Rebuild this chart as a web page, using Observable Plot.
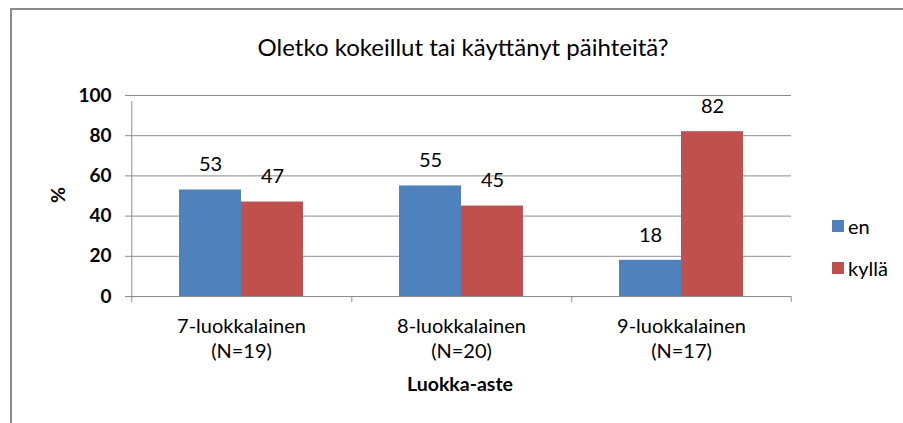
<!DOCTYPE html>
<html><head><meta charset="utf-8">
<script src="https://cdn.jsdelivr.net/npm/d3@7"></script>
<script src="https://cdn.jsdelivr.net/npm/@observablehq/plot@0.6"></script>
<style>
body{margin:0;background:#fff}
#wrap{position:relative;width:903px;height:423px;overflow:hidden;font-family:Lato,"Open Sans",sans-serif;color:#000;background:#fff}
#border{position:absolute;left:10px;top:8px;width:900px;height:420px;border-left:2px solid #8a8a8a;border-top:2px solid #8a8a8a}
#chart{position:absolute;left:0;top:0}
#title{position:absolute;left:0;width:926px;top:32px;text-align:center;font-size:24px;line-height:29px}
.ax{position:absolute;font-weight:bold;font-size:19.5px;line-height:24px}
#xlab{left:0;width:920px;text-align:center;top:372px}
#ylab{left:46px;top:183px;transform:rotate(-90deg);width:24px;text-align:center}
.leg{position:absolute;left:832px;font-size:20px;line-height:24px;display:flex;align-items:center}
.leg span.sw{display:inline-block;width:12px;height:12px;margin-right:4px}
</style></head>
<body>
<div id="wrap">
  <div id="border"></div>
  <div id="chart"></div>
  <div id="title">Oletko kokeillut tai käyttänyt päihteitä?</div>
  <div id="xlab" class="ax">Luokka-aste</div>
  <div id="ylab" class="ax">%</div>
  <div id="legend"></div>
</div>
<script>
const categories = ["7-luokkalainen", "8-luokkalainen", "9-luokkalainen"];
const sampleSizes = ["(N=19)", "(N=20)", "(N=17)"];
const series = ["en", "kyllä"];
const enValues = [53, 55, 18];
const kyllaValues = [47, 45, 82];
const yTicks = [0, 20, 40, 60, 80, 100];
const colors = ["#4F81BD", "#C0504D"];

const data = [];
categories.forEach((c, i) => {
  data.push({cat: c, series: "en", value: enValues[i]});
  data.push({cat: c, series: "kyllä", value: kyllaValues[i]});
});

const W = 903, H = 423, mL = 130, mR = 112, mT = 95, mB = 127;
const facetW = (W - mL - mR) / categories.length;
const step = facetW / (series.length + 1.5);
const edge = 1.25 * step;

const bounds = categories.map(c => ({cat: c, s: series[0], dx: -edge}));
bounds.push({cat: categories[categories.length - 1], s: series[series.length - 1], dx: edge});

const plot = Plot.plot({
  width: W, height: H,
  marginLeft: mL, marginRight: mR, marginTop: mT, marginBottom: mB,
  style: {fontFamily: "Lato, 'Open Sans', sans-serif", fontSize: "15px", color: "#000", background: "transparent"},
  fx: {domain: categories, padding: 0, axis: null, label: null},
  x: {domain: series, paddingInner: 0, paddingOuter: 0.75, axis: null, label: null},
  y: {domain: [0, 100], axis: null, label: null},
  color: {domain: series, range: colors},
  marks: [
    Plot.gridY(yTicks, {stroke: "#8c8c8c", strokeOpacity: 1}),
    Plot.barY(data, {fx: "cat", x: "series", y: "value", fill: "series"}),
    Plot.text(data, {fx: "cat", x: "series", y: "value", text: d => String(d.value), dy: -25, fontSize: 20, fill: "#000"}),
    Plot.ruleY([0], {stroke: "#8c8c8c"}),
    // category boundary ticks
    ...bounds.map(b => Plot.ruleX([b], {fx: "cat", x: "s", y1: 0, y2: 0, insetBottom: -6, dx: b.dx, stroke: "#8c8c8c"})),
    // left axis line
    Plot.ruleX([{cat: categories[0], s: series[0]}], {fx: "cat", x: "s", y1: 0, y2: 100, insetBottom: -6, dx: -edge, stroke: "#8c8c8c"}),
    Plot.axisY(yTicks, {anchor: "left", tickSize: 6, tickPadding: 14, fontWeight: "bold", fontSize: 19, stroke: "#8c8c8c", label: null, facetAnchor: "left"}),
    Plot.axisFx({anchor: "bottom", tickSize: 0, tickPadding: 19, fontSize: 20, lineHeight: 1.25, label: null,
      tickFormat: c => c + "\n" + sampleSizes[categories.indexOf(c)]})
  ]
});
document.getElementById("chart").appendChild(plot);

const legend = document.getElementById("legend");
series.forEach((s, i) => {
  const el = document.createElement("div");
  el.className = "leg";
  el.style.top = (214 + i * 42) + "px";
  el.innerHTML = `<span class="sw" style="background:${colors[i]}"></span>${s}`;
  legend.appendChild(el);
});
</script>
</body></html>
